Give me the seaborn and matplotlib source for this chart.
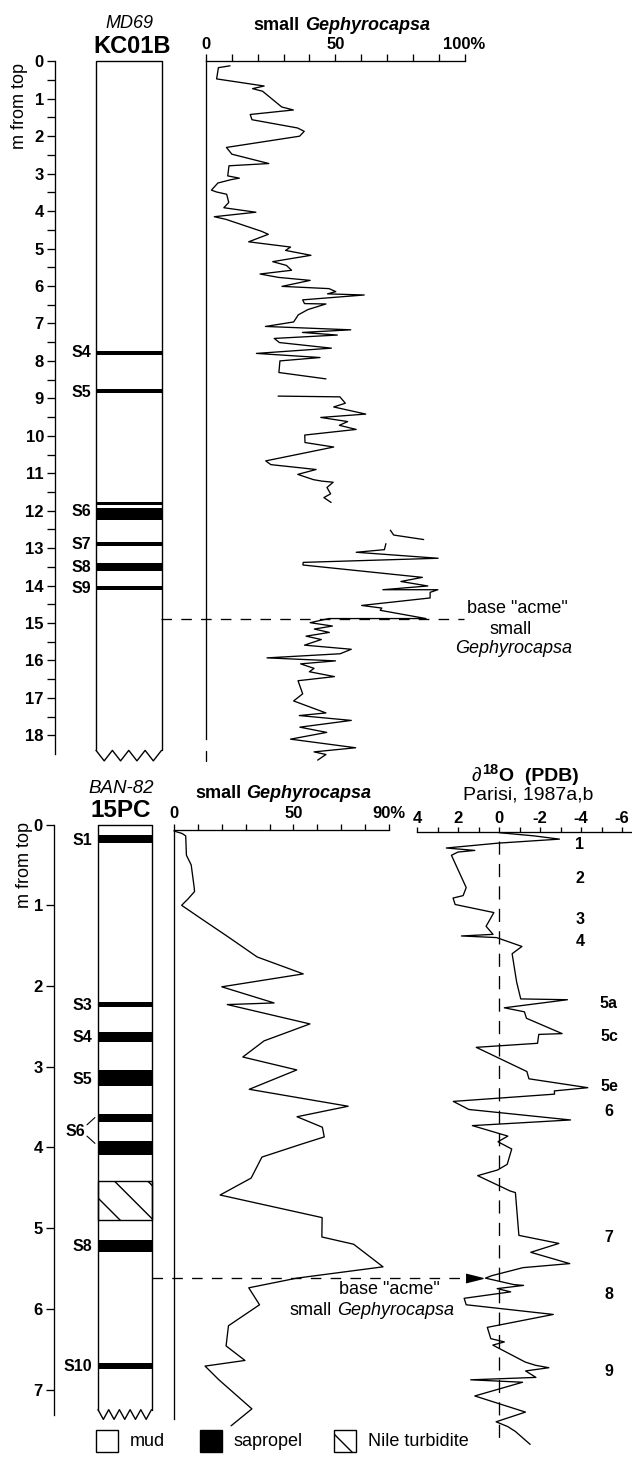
import numpy as np
import pandas as pd
import matplotlib
matplotlib.use("Agg")
import matplotlib.pyplot as plt
import matplotlib.transforms as mtransforms
from matplotlib.patches import Rectangle
import seaborn as sns

# ------------------------------------------------------------------ data
# MD69 KC01B : small Gephyrocapsa (%) versus depth (m from top); 4 sections
kc_s1_depth = [0.12, 0.17, 0.47, 0.66, 0.73, 0.80, 1.22, 1.30, 1.42, 1.56, 1.78, 1.87, 2.00,
               2.30, 2.48, 2.73, 2.79, 3.06, 3.12, 3.16, 3.25, 3.44, 3.49, 3.55, 3.77, 3.91,
               4.03, 4.15, 4.22, 4.54, 4.62, 4.82, 4.96, 5.05, 5.18, 5.35, 5.45, 5.58, 5.68,
               5.77, 5.85, 6.01, 6.07, 6.15, 6.21, 6.24, 6.37, 6.47, 6.48, 6.63, 6.77, 6.96,
               7.08, 7.17, 7.24, 7.31, 7.40, 7.51, 7.66, 7.80, 7.91, 8.00, 8.31, 8.48]
kc_s1_pct = [9.3, 4.8, 4.1, 22.5, 18.0, 21.9, 29.3, 33.8, 17.1, 17.8, 35.4, 38.0, 36.2,
             7.9, 10.0, 24.3, 8.9, 8.4, 12.9, 9.7, 4.6, 2.1, 4.1, 8.0, 8.8, 6.9,
             19.3, 3.2, 7.7, 21.5, 24.1, 16.5, 32.7, 30.8, 40.6, 25.8, 31.1, 33.1, 20.9,
             28.0, 40.3, 29.4, 47.6, 50.2, 47.0, 61.2, 37.4, 38.1, 46.4, 39.4, 35.7, 33.9,
             23.0, 56.0, 37.3, 50.8, 26.4, 28.4, 48.5, 19.5, 44.1, 28.6, 28.2, 46.4]
kc_s2_depth = [8.94, 8.96, 9.13, 9.23, 9.42, 9.51, 9.62, 9.72, 9.83, 9.98, 10.18, 10.30,
               10.67, 10.77, 10.90, 11.03, 11.17, 11.21, 11.24, 11.38, 11.55, 11.65, 11.78]
kc_s2_pct = [27.9, 51.8, 53.9, 49.4, 61.8, 44.4, 54.8, 51.6, 58.1, 38.2, 38.3, 49.4,
             23.1, 25.1, 42.6, 35.5, 41.5, 44.8, 49.2, 46.8, 48.2, 45.6, 48.4]
kc_s3_depth = [12.52, 12.65, 12.77]
kc_s3_pct = [71.3, 72.6, 84.2]
kc_s4_depth = [12.88, 13.04, 13.11, 13.27, 13.38, 13.45, 13.78, 13.89, 14.01, 14.11, 14.11,
               14.18, 14.33, 14.53, 14.60, 14.66, 14.88, 14.88, 14.99, 15.08, 15.16, 15.25,
               15.35, 15.44, 15.59, 15.70, 15.82, 15.93, 16.01, 16.09, 16.21, 16.30, 16.43,
               16.54, 16.89, 17.08, 17.40, 17.47, 17.60, 17.78, 17.92, 18.10, 18.33, 18.44,
               18.51, 18.66]
kc_s4_pct = [69.6, 69.0, 58.1, 89.8, 37.6, 37.5, 83.7, 75.4, 85.8, 68.4, 89.7,
             86.7, 86.7, 60.2, 68.0, 67.4, 85.1, 47.5, 40.3, 48.9, 41.9, 47.7,
             38.7, 44.6, 38.1, 56.2, 51.9, 23.6, 50.1, 36.6, 41.8, 40.0, 49.7,
             35.6, 37.4, 33.9, 46.4, 36.1, 56.2, 36.3, 46.7, 32.7, 57.9, 41.8,
             46.4, 43.2]
kc_sap_top = [7.73, 8.745, 11.78, 11.92, 12.83, 13.39, 14.00]
kc_sap_bot = [7.85, 8.855, 11.86, 12.26, 12.95, 13.61, 14.12]
kc_sap_labels = ["S4", "S5", "S6", "S7", "S8", "S9"]
kc_sap_label_depth = [7.77, 8.84, 12.02, 12.9, 13.52, 14.08]
kc_depth_ticks = list(range(0, 19))
kc_pct_ticks = list(range(0, 101, 10))
kc_pct_ticklabels = ["0", "", "", "", "", "50", "", "", "", "", "100%"]
kc_acme_depth = 14.9

# BAN-82 15PC : small Gephyrocapsa (%) and delta18O (PDB, Parisi 1987a,b)
pc_gep_depth = [0.08, 0.11, 0.14, 0.38, 0.50, 0.79, 0.83, 0.92, 1.00, 1.16, 1.39, 1.64, 1.85,
                2.01, 2.21, 2.23, 2.47, 2.68, 2.88, 3.04, 3.28, 3.49, 3.62, 3.75, 3.87, 3.96,
                4.12, 4.38, 4.59, 4.87, 5.11, 5.20, 5.48, 5.62, 5.74, 5.95, 6.21, 6.46, 6.64,
                6.71, 6.88, 7.24, 7.45]
pc_gep_pct = [0.0, 3.4, 4.9, 5.2, 7.2, 8.5, 8.6, 5.9, 3.2, 11.1, 22.6, 34.8, 54.1,
              20.0, 41.9, 22.3, 56.9, 37.7, 28.8, 51.4, 31.5, 72.9, 51.5, 62.1, 62.9, 53.3,
              36.8, 32.3, 19.3, 62.0, 61.9, 75.2, 87.5, 51.4, 31.3, 35.8, 22.8, 21.8, 29.7,
              13.0, 18.8, 32.6, 23.9]
pc_o_depth = [0.10, 0.14, 0.18, 0.23, 0.29, 0.32, 0.34, 0.38, 0.78, 0.88, 0.91, 0.99, 1.09,
              1.26, 1.36, 1.38, 1.40, 1.51, 1.60, 1.95, 2.16, 2.17, 2.27, 2.32, 2.40, 2.59,
              2.60, 2.71, 2.76, 3.06, 3.15, 3.26, 3.30, 3.34, 3.43, 3.53, 3.66, 3.73, 3.86,
              3.93, 4.02, 4.21, 4.28, 4.35, 4.54, 4.56, 5.09, 5.19, 5.30, 5.44, 5.49, 5.59,
              5.62, 5.70, 5.71, 5.75, 5.79, 5.87, 5.95, 6.07, 6.23, 6.37, 6.41, 6.45, 6.66,
              6.70, 6.73, 6.77, 6.85, 6.88, 6.91, 7.08, 7.28, 7.40, 7.46, 7.52, 7.68]
pc_o_d18 = [0.0, -1.72, -2.95, 0.06, 2.57, 1.18, 2.0, 2.32, 1.6, 1.75, 2.24, 2.14, 0.25,
            0.63, 0.29, 1.83, 0.12, -1.12, -0.64, -0.86, -1.06, -3.34, -0.26, -1.24, -1.34, -3.08,
            -1.94, -1.88, 1.11, -1.36, -1.46, -4.33, -2.70, -2.71, 2.23, 1.47, -3.49, 1.30, -0.43,
            0.05, -0.62, -0.40, 0.07, 1.04, -0.54, -0.80, -0.97, -2.92, -1.55, -3.45, -1.17, 0.36,
            0.66, -0.72, -1.20, 0.09, -0.57, 1.70, 1.60, -2.65, 0.57, 0.40, -0.26, 0.30, -1.28,
            -1.78, -2.43, -1.30, -1.80, 1.38, -1.15, 1.18, -1.29, 0.14, -0.43, -0.80, -1.52]
pc_sap_top = [0.13, 2.20, 2.57, 3.04, 3.58, 3.92, 5.15, 6.67]
pc_sap_bot = [0.23, 2.26, 2.69, 3.24, 3.68, 4.09, 5.29, 6.74]
pc_turb_top = [4.42]
pc_turb_bot = [4.90]
pc_sap_labels = ["S1", "S3", "S4", "S5", "S6", "S8", "S10"]
pc_sap_label_depth = [0.2, 2.24, 2.64, 3.16, 3.80, 5.23, 6.72]
pc_depth_ticks = list(range(0, 8))
pc_pct_ticks = list(range(0, 91, 10))
pc_pct_ticklabels = ["0", "", "", "", "", "50", "", "", "", "90%"]
pc_o_ticks = [4, 3, 2, 1, 0, -1, -2, -3, -4, -5, -6]
pc_o_ticklabels = ["4", "", "2", "", "0", "", "-2", "", "-4", "", "-6"]
pc_acme_depth = 5.62
stage_labels = ["1", "2", "3", "4", "5a", "5c", "5e", "6", "7", "8", "9"]
stage_depth = [0.25, 0.67, 1.18, 1.45, 2.22, 2.63, 3.25, 3.56, 5.12, 5.82, 6.78]

# ------------------------------------------------------------------ style
sns.set_theme(style="white")
plt.rcParams["font.family"] = ["Liberation Sans", "DejaVu Sans"]
plt.rcParams.update({
    "axes.edgecolor": "black", "xtick.color": "black", "ytick.color": "black",
    "text.color": "black", "axes.labelcolor": "black", "hatch.linewidth": 1.0,
})
LW = 0.95
K = "black"

W, H, DPI = 632, 1464, 100
fig = plt.figure(figsize=(W / DPI, H / DPI), dpi=DPI)
fig.patch.set_facecolor("white")

V0T, ST = 61.3, 37.45   # top panel: pixel row of depth 0, pixels per metre
V0B, SB = 824.6, 80.7   # bottom panel
O_U4, O_SC = 417.0, 20.5   # delta18O axis: pixel column of +4 permil, pixels per permil
O_U0 = O_U4 + 4 * O_SC


def vt(d):
    return V0T + d * ST


def vb(d):
    return V0B + d * SB


def add_ax(u0, u1, v0, v1):
    ax = fig.add_axes([u0 / W, 1 - v1 / H, (u1 - u0) / W, (v1 - v0) / H])
    ax.patch.set_alpha(0)
    for s in ax.spines.values():
        s.set_visible(False)
        s.set_linewidth(LW)
        s.set_color(K)
    ax.set_xticks([])
    ax.set_yticks([])
    return ax


def ftext(u, v, s, **kw):
    return fig.text(u / W, 1 - v / H, s, **kw)


def draw_core(ax, x0, x1, bot, amp, n_v, tops, bots, labels, label_depths, lab_x):
    ax.plot([x0, x0, x1, x1], [bot, 0, 0, bot], color=K, lw=1.0, clip_on=False)
    zx = np.linspace(x0, x1, 2 * n_v + 1)
    zy = [bot + (amp if i % 2 else 0.0) for i in range(2 * n_v + 1)]
    ax.plot(zx, zy, color=K, lw=1.0, clip_on=False)
    t = np.array(tops)
    b = np.array(bots)
    ax.barh(y=(t + b) / 2, width=x1 - x0, height=b - t, left=x0, color=K, linewidth=0)
    for lab, d, lx in zip(labels, label_depths, lab_x):
        ax.text(lx, d, lab, ha="right", va="center", fontsize=11.5, fontweight="bold")


# ================================================================== TOP PANEL
T_DMAX = 18.75
ax_dt = add_ax(55, 175, vt(0), vt(T_DMAX))
ax_dt.set_xlim(0, 1)
ax_dt.set_ylim(T_DMAX, 0)
ax_dt.spines["left"].set_visible(True)
ax_dt.spines["left"].set_bounds(0, 18.5)
ax_dt.set_yticks(kc_depth_ticks, [str(t) for t in kc_depth_ticks], fontsize=12, fontweight="bold")
ax_dt.set_yticks(np.arange(0.5, 18.5, 1.0), minor=True)
ax_dt.tick_params(axis="y", which="both", left=True, direction="out", length=6, width=LW, pad=2)
cx0, cx1 = (96 - 55) / 120, (161.5 - 55) / 120
draw_core(ax_dt, cx0, cx1, 18.40, 0.28, 4, kc_sap_top, kc_sap_bot, kc_sap_labels,
          kc_sap_label_depth, [cx0 - 0.042] * len(kc_sap_labels))

ax_gt = add_ax(206, 464.5, vt(0), vt(T_DMAX))
kc_df = pd.concat([
    pd.DataFrame({"depth": d, "pct": p, "seg": i})
    for i, (d, p) in enumerate([(kc_s1_depth, kc_s1_pct), (kc_s2_depth, kc_s2_pct),
                                (kc_s3_depth, kc_s3_pct), (kc_s4_depth, kc_s4_pct)])
], ignore_index=True)
sns.lineplot(data=kc_df, x="pct", y="depth", units="seg", estimator=None, sort=False,
             orient="y", color=K, linewidth=LW, ax=ax_gt, legend=False)
ax_gt.set_xlim(0, 100)
ax_gt.set_ylim(T_DMAX, 0)
ax_gt.set_xlabel("")
ax_gt.set_ylabel("")
ax_gt.spines["top"].set_visible(True)
ax_gt.spines["left"].set_visible(True)
ax_gt.spines["left"].set_bounds(0, 18.1)
ax_gt.xaxis.tick_top()
ax_gt.set_xticks(kc_pct_ticks, kc_pct_ticklabels, fontsize=12, fontweight="bold")
ax_gt.tick_params(axis="x", top=True, bottom=False, labeltop=True, labelbottom=False,
                  direction="out", length=5, width=LW, pad=2)
ax_gt.set_yticks([])
ax_gt.plot([0, 0], [18.42, 18.68], color=K, lw=LW, clip_on=False)
for ln in ax_gt.lines:
    ln.set_clip_on(False)

tr_t = mtransforms.blended_transform_factory(fig.transFigure, ax_gt.transData)
ax_gt.plot([161.5 / W, 464 / W], [kc_acme_depth] * 2, transform=tr_t, color=K, lw=LW,
           ls=(0, (8, 7)), clip_on=False)

ftext(129.4, 23, "MD69", ha="center", va="center", fontsize=13, fontstyle="italic")
ftext(132.3, 46.5, "KC01B", ha="center", va="center", fontsize=17, fontweight="bold")
ftext(19.5, 106, "m from top", rotation=90, ha="center", va="center", fontsize=13)
t_a = ftext(253.5, 26, "small", ha="left", va="center", fontsize=13, fontweight="bold")
ax_gt.annotate("Gephyrocapsa", xy=(1, 0), xycoords=t_a, xytext=(3.6, 0),
               textcoords="offset points", ha="left", va="bottom", fontsize=13,
               fontweight="bold", fontstyle="italic", annotation_clip=False)
ftext(517, 608.5, 'base "acme"', ha="center", va="center", fontsize=13)
ftext(511, 629.3, "small", ha="center", va="center", fontsize=13)
ftext(513.7, 648.7, "Gephyrocapsa", ha="center", va="center", fontsize=13, fontstyle="italic")

# ================================================================== BOTTOM PANEL
B_DMAX = 7.45
ax_db = add_ax(54, 165, vb(0), vb(B_DMAX))
ax_db.set_xlim(0, 1)
ax_db.set_ylim(B_DMAX, 0)
ax_db.spines["left"].set_visible(True)
ax_db.spines["left"].set_bounds(0, 7.32)
ax_db.set_yticks(pc_depth_ticks, [str(t) for t in pc_depth_ticks], fontsize=12, fontweight="bold")
ax_db.tick_params(axis="y", which="both", left=True, direction="out", length=6, width=LW, pad=2)
bx0, bx1 = (98 - 54) / 111, (151.5 - 54) / 111
lab_x = [0.342] * len(pc_sap_labels)
lab_x[pc_sap_labels.index("S6")] = 0.28
draw_core(ax_db, bx0, bx1, 7.25, 0.12, 5, pc_sap_top, pc_sap_bot, pc_sap_labels,
          pc_sap_label_depth, lab_x)
for tt, bb in zip(pc_turb_top, pc_turb_bot):
    ax_db.add_patch(Rectangle((bx0, tt), bx1 - bx0, bb - tt, facecolor="white",
                              edgecolor=K, lw=1.0, hatch="\\"))
ax_db.plot([0.297, 0.369], [3.72, 3.63], color=K, lw=0.8)
ax_db.plot([0.297, 0.369], [3.86, 3.95], color=K, lw=0.8)

ax_gb = add_ax(174, 389, vb(0.07), vb(7.6))
pc_df = pd.DataFrame({"depth": pc_gep_depth, "pct": pc_gep_pct})
sns.lineplot(data=pc_df, x="pct", y="depth", estimator=None, sort=False, orient="y",
             color=K, linewidth=LW, ax=ax_gb, legend=False)
ax_gb.set_xlim(0, 90)
ax_gb.set_ylim(7.6, 0.07)
ax_gb.set_xlabel("")
ax_gb.set_ylabel("")
ax_gb.spines["top"].set_visible(True)
ax_gb.spines["left"].set_visible(True)
ax_gb.spines["left"].set_bounds(0.07, 7.37)
ax_gb.xaxis.tick_top()
ax_gb.set_xticks(pc_pct_ticks, pc_pct_ticklabels, fontsize=12, fontweight="bold")
ax_gb.tick_params(axis="x", top=True, bottom=False, labeltop=True, labelbottom=False,
                  direction="out", length=4.5, width=LW, pad=2)
ax_gb.set_yticks([])
for ln in ax_gb.lines:
    ln.set_clip_on(False)

O_RIGHT = 4 - (632 - O_U4) / O_SC
ax_o = add_ax(O_U4, 632, vb(0.09), vb(7.75))
o_df = pd.DataFrame({"depth": pc_o_depth, "d18O": pc_o_d18})
sns.lineplot(data=o_df, x="d18O", y="depth", estimator=None, sort=False, orient="y",
             color=K, linewidth=LW, ax=ax_o, legend=False)
ax_o.set_xlim(4, O_RIGHT)
ax_o.set_ylim(7.75, 0.09)
ax_o.set_xlabel("")
ax_o.set_ylabel("")
ax_o.spines["top"].set_visible(True)
ax_o.xaxis.tick_top()
ax_o.set_xticks(pc_o_ticks, pc_o_ticklabels, fontsize=12, fontweight="bold")
ax_o.tick_params(axis="x", top=True, bottom=False, labeltop=True, labelbottom=False,
                 direction="out", length=3.5, width=LW, pad=1)
ax_o.set_yticks([])
ax_o.plot([0, 0], [0.2, 7.63], color=K, lw=LW, ls=(0, (10, 7)))
for ln in ax_o.lines:
    ln.set_clip_on(False)
for lab, d in zip(stage_labels, stage_depth):
    u_lab = 580 if lab in ("1", "2", "3", "4") else 609
    ax_o.text((O_U0 - u_lab) / O_SC, d, lab, ha="center", va="center", fontsize=11.5,
              fontweight="bold")

tr_b = mtransforms.blended_transform_factory(fig.transFigure, ax_gb.transData)
ax_gb.plot([151.5 / W, 466 / W], [pc_acme_depth] * 2, transform=tr_b, color=K, lw=LW,
           ls=(0, (8, 7)), clip_on=False)
ax_o.plot([(O_U0 - 474) / O_SC], [pc_acme_depth], marker=[(-1, -0.5), (1, 0), (-1, 0.5)],
          ms=12.2, color=K, clip_on=False, linestyle="none")

ftext(121.1, 788.8, "BAN-82", ha="center", va="center", fontsize=13.5, fontstyle="italic")
ftext(121.1, 810.4, "15PC", ha="center", va="center", fontsize=17.5, fontweight="bold")
ftext(24.8, 864.7, "m from top", rotation=90, ha="center", va="center", fontsize=13)
t_b = ftext(195.4, 794, "small", ha="left", va="center", fontsize=13, fontweight="bold")
ax_gb.annotate("Gephyrocapsa", xy=(1, 0), xycoords=t_b, xytext=(3.6, 0),
               textcoords="offset points", ha="left", va="bottom", fontsize=13,
               fontweight="bold", fontstyle="italic", annotation_clip=False)

t_d = ftext(472, 781, "\u2202", ha="left", va="baseline", fontsize=14)
t_s = ax_o.annotate("18", xy=(1, 0.62), xycoords=t_d, xytext=(0.3, 0),
                    textcoords="offset points", ha="left", va="baseline", fontsize=10.5,
                    fontweight="bold", annotation_clip=False)
ax_o.annotate("O  (PDB)", xy=(1, 0), xycoords=(t_s, t_d), xytext=(0.3, 0),
              textcoords="offset points", ha="left", va="bottom", fontsize=14,
              fontweight="bold", annotation_clip=False)
ftext(528, 795, "Parisi, 1987a,b", ha="center", va="center", fontsize=14)

ftext(389, 1289.7, 'base "acme"', ha="center", va="center", fontsize=13)
t_c = ftext(290, 1310.3, "small", ha="left", va="center", fontsize=13)
ax_gb.annotate("Gephyrocapsa", xy=(1, 0), xycoords=t_c, xytext=(3.6, 0),
               textcoords="offset points", ha="left", va="bottom", fontsize=13,
               fontstyle="italic", annotation_clip=False)

# legend
legend_items = [("mud", "white", None, 96), ("sapropel", "black", None, 200),
                ("Nile turbidite", "white", "\\", 334)]
for name, fc, hatch, u0 in legend_items:
    fig.add_artist(Rectangle((u0 / W, 1 - 1452 / H), 22 / W, 22 / H, transform=fig.transFigure,
                             facecolor=fc, edgecolor=K, lw=1.0, hatch=hatch))
    ftext(u0 + 34, 1441.5, name, ha="left", va="center", fontsize=13)

fig.savefig("out.png", dpi=DPI, facecolor="white")
